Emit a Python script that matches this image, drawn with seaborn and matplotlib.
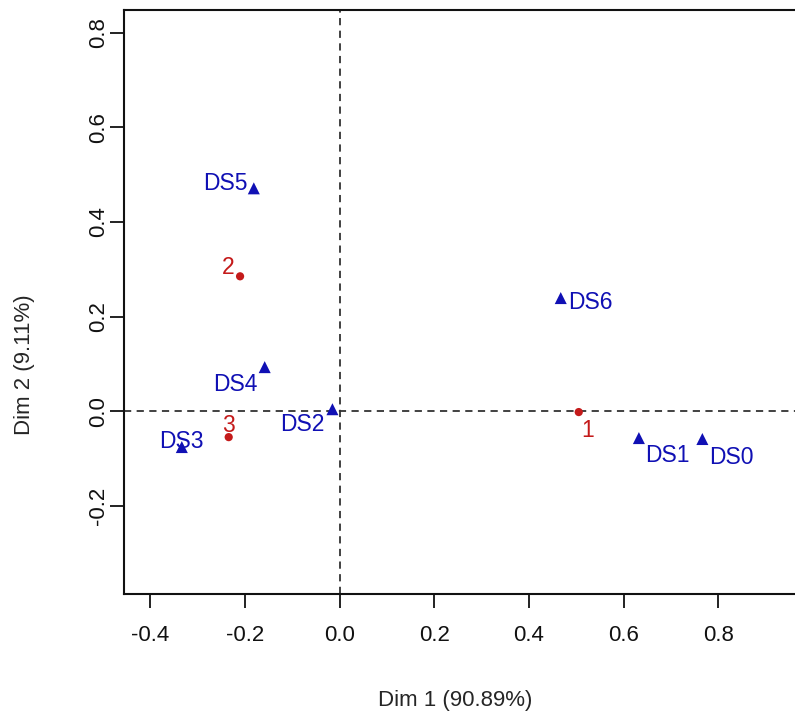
import matplotlib
matplotlib.use("Agg")
import matplotlib.pyplot as plt
import pandas as pd
import seaborn as sns

# column points (blue triangles) and row points (red dots)
col_labels = ["DS0", "DS1", "DS2", "DS3", "DS4", "DS5", "DS6"]
col_dim1 = [0.766, 0.632, -0.015, -0.333, -0.158, -0.181, 0.467]
col_dim2 = [-0.059, -0.057, 0.004, -0.076, 0.093, 0.471, 0.239]

row_labels = ["1", "2", "3"]
row_dim1 = [0.505, -0.210, -0.234]
row_dim2 = [-0.002, 0.285, -0.055]

x_ticks = [-0.4, -0.2, 0.0, 0.2, 0.4, 0.6, 0.8]
y_ticks = [-0.2, 0.0, 0.2, 0.4, 0.6, 0.8]

# label offsets in pixels (label placement, like R's autoLab)
col_offsets = [(29, -18), (28, -17), (-30, -15), (0, 6), (-29, -17), (-28, 5), (30, -4)]
row_offsets = [(9, -18), (-12, 9), (0, 12)]

BLUE = "#1010b4"
RED = "#c41a1a"

cols = pd.DataFrame({"label": col_labels, "Dim1": col_dim1, "Dim2": col_dim2})
rows = pd.DataFrame({"label": row_labels, "Dim1": row_dim1, "Dim2": row_dim2})

sns.set_style("ticks")
plt.rcParams["font.family"] = ["Liberation Sans", "DejaVu Sans"]

fig = plt.figure(figsize=(7.95, 7.15), dpi=100)
ax = fig.add_axes([0.156, 0.169, 0.852, 0.817])

ax.axhline(0, color="#333333", linestyle=(0, (4, 3)), linewidth=1.3, zorder=1)
ax.axvline(0, color="#333333", linestyle=(0, (4, 3)), linewidth=1.3, zorder=1)

sns.scatterplot(data=cols, x="Dim1", y="Dim2", marker="^", color=BLUE, s=75,
                edgecolor="none", ax=ax, zorder=3)
sns.scatterplot(data=rows, x="Dim1", y="Dim2", marker="o", color=RED, s=35,
                edgecolor="none", ax=ax, zorder=3)

for df, offs, c in [(cols, col_offsets, BLUE), (rows, row_offsets, RED)]:
    for (_, r), (dx, dy) in zip(df.iterrows(), offs):
        ax.annotate(r["label"], (r["Dim1"], r["Dim2"]), xytext=(dx, dy),
                    textcoords="offset pixels", ha="center", va="center",
                    color=c, fontsize=16.5)

ax.set_xlim(-0.455, 0.975)
ax.set_ylim(-0.387, 0.848)
ax.set_xticks(x_ticks)
ax.set_yticks(y_ticks)
ax.set_xticklabels([f"{v:.1f}" for v in x_ticks])
ax.set_yticklabels([f"{v:.1f}" for v in y_ticks], rotation=90, va="center")
ax.tick_params(length=10, width=1.3, labelsize=16, colors="#111111")
ax.tick_params(axis="x", pad=12)
ax.tick_params(axis="y", pad=1)

for side in ["left", "top", "bottom"]:
    ax.spines[side].set_linewidth(1.5)
    ax.spines[side].set_color("#111111")
ax.spines["right"].set_visible(False)

# axis titles placed like the R plot
ax_w, ax_h = 0.852 * 795, 0.817 * 715
ax.set_xlabel("Dim 1 (90.89%)", fontsize=16)
ax.set_ylabel("Dim 2 (9.11%)", fontsize=16)
ax.xaxis.label.set_va("center")
ax.yaxis.label.set_va("center")
ax.xaxis.set_label_coords((455 - 124) / ax_w, -(700 - 594) / ax_h)
ax.yaxis.set_label_coords(-(124 - 24) / ax_w, (594 - 365) / ax_h)

fig.savefig("out.png", dpi=100)
